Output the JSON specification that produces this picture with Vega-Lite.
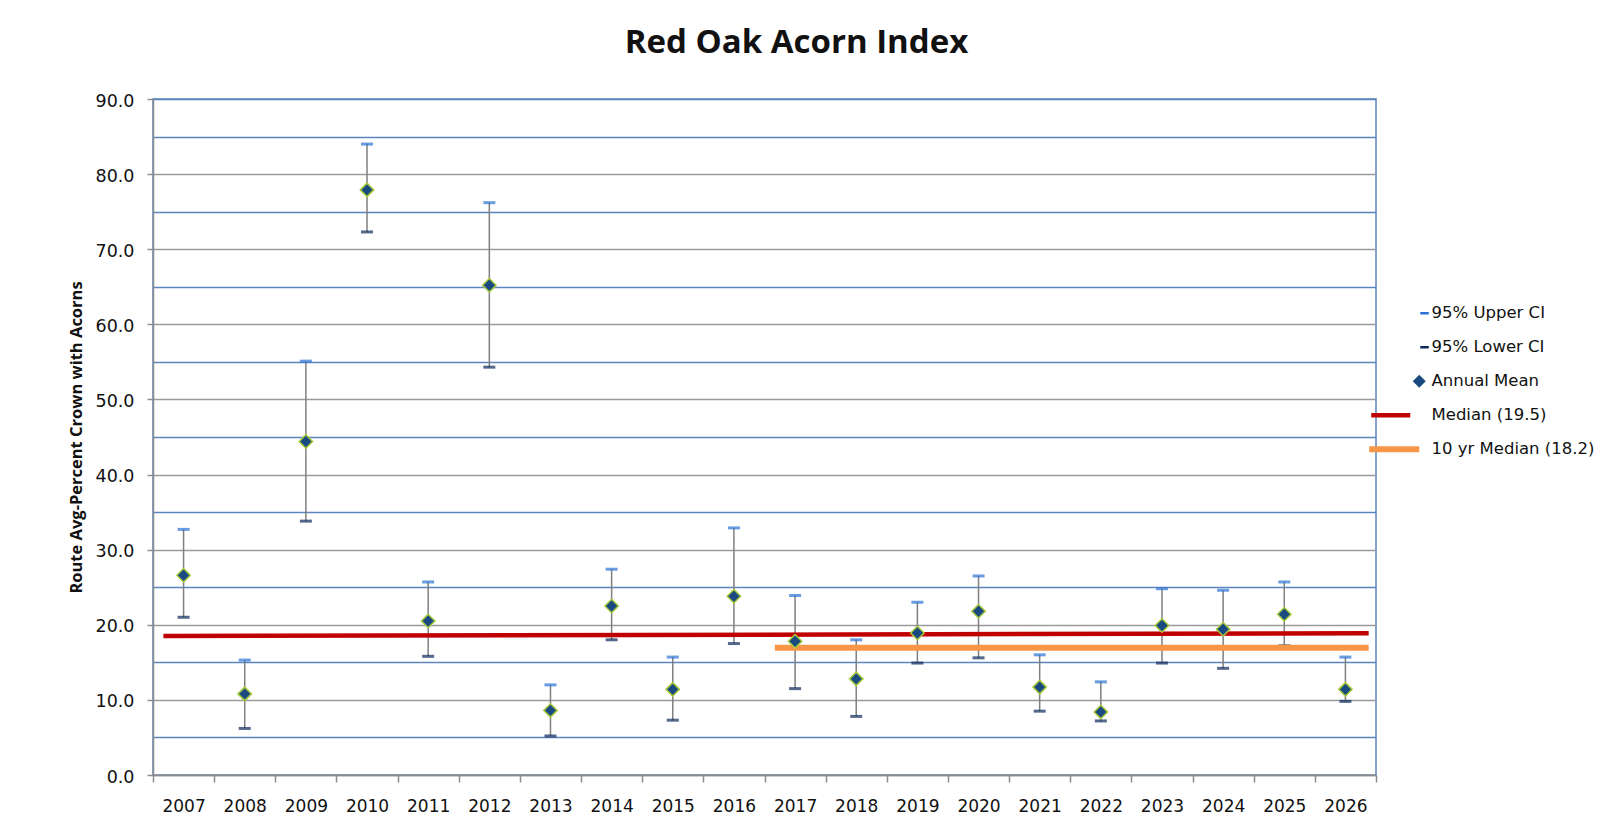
{
  "$schema": "https://vega.github.io/schema/vega-lite/v6.json",
  "autosize": "none",
  "width": 1223,
  "height": 676,
  "padding": {"left": 153, "top": 99, "right": 224, "bottom": 57},
  "background": "white",
  "title": {
    "text": "Red Oak Acorn Index",
    "font": "Open Sans",
    "fontSize": 33,
    "fontWeight": "bold",
    "color": "#111111",
    "anchor": "middle",
    "offset": 32,
    "dx": 32
  },
  "config": {
    "view": {"stroke": "#5b85bd", "strokeWidth": 1.5},
    "font": "DejaVu Sans",
    "axisY": {
      "labelFont": "DejaVu Sans",
      "labelFontSize": 17.5,
      "labelColor": "#111111",
      "labelPadding": 13,
      "labelOffset": 2,
      "tickSize": 6,
      "tickWidth": 1.5,
      "domainColor": "#8c8c8c",
      "domainWidth": 1.5,
      "grid": true,
      "gridWidth": 1.5,
      "titleFont": "Open Sans",
      "titleFontSize": 16.5,
      "titleFontWeight": "bold",
      "titleColor": "#111111",
      "titlePadding": 11
    },
    "legend": {
      "title": null,
      "orient": "none",
      "legendX": 1266,
      "legendY": 206,
      "padding": 0,
      "symbolSize": 100,
      "labelOffset": -4,
      "rowPadding": 17,
      "labelFont": "DejaVu Sans",
      "labelFontSize": 16.5,
      "labelColor": "#111111",
      "labelLimit": 300,
      "symbolOpacity": 1,
      "symbolStrokeWidth": 0
    }
  },
  "datasets": {
    "acorns": [
      {"year": "2007", "mean": 26.6, "lower": 21.0, "upper": 32.7},
      {"year": "2008", "mean": 10.8, "lower": 6.2, "upper": 15.3},
      {"year": "2009", "mean": 44.4, "lower": 33.8, "upper": 55.1},
      {"year": "2010", "mean": 77.9, "lower": 72.3, "upper": 84.0},
      {"year": "2011", "mean": 20.5, "lower": 15.8, "upper": 25.7},
      {"year": "2012", "mean": 65.2, "lower": 54.3, "upper": 76.2},
      {"year": "2013", "mean": 8.6, "lower": 5.2, "upper": 12.0},
      {"year": "2014", "mean": 22.5, "lower": 18.0, "upper": 27.4},
      {"year": "2015", "mean": 11.4, "lower": 7.3, "upper": 15.7},
      {"year": "2016", "mean": 23.8, "lower": 17.5, "upper": 32.9},
      {"year": "2017", "mean": 17.8, "lower": 11.5, "upper": 23.9},
      {"year": "2018", "mean": 12.8, "lower": 7.8, "upper": 18.0},
      {"year": "2019", "mean": 18.9, "lower": 14.9, "upper": 23.0},
      {"year": "2020", "mean": 21.8, "lower": 15.6, "upper": 26.5},
      {"year": "2021", "mean": 11.7, "lower": 8.5, "upper": 16.0},
      {"year": "2022", "mean": 8.4, "lower": 7.2, "upper": 12.4},
      {"year": "2023", "mean": 19.9, "lower": 14.9, "upper": 24.8},
      {"year": "2024", "mean": 19.4, "lower": 14.2, "upper": 24.6},
      {"year": "2025", "mean": 21.4, "lower": 17.2, "upper": 25.7},
      {"year": "2026", "mean": 11.4, "lower": 9.8, "upper": 15.7}
    ],
    "medians": [
      {"name": "Median (19.5)", "start": "2007", "end": "2026", "y0": 18.5, "y1": 18.87},
      {"name": "10 yr Median (18.2)", "start": "2017", "end": "2026", "y0": 16.95, "y1": 16.95}
    ],
    "legend": [
      {"series": "95% Upper CI"},
      {"series": "95% Lower CI"},
      {"series": "Annual Mean"},
      {"series": "Median (19.5)"},
      {"series": "10 yr Median (18.2)"}
    ]
  },
  "data": {"name": "acorns"},
  "encoding": {
    "x": {
      "field": "year",
      "type": "ordinal",
      "title": null,
      "scale": {"type": "band", "paddingInner": 0, "paddingOuter": 0},
      "axis": {
        "labelAngle": 0,
        "tickBand": "extent",
        "labelFont": "DejaVu Sans",
        "labelFontSize": 17,
        "labelColor": "#111111",
        "labelPadding": 16,
        "tickSize": 7,
        "tickColor": "#8c8c8c",
        "tickWidth": 1.5,
        "domainColor": "#8c8c8c",
        "domainWidth": 1.5,
        "grid": false
      }
    }
  },
  "layer": [
    {
      "mark": {"type": "rule", "color": "#7f7f7f", "strokeWidth": 1.5},
      "encoding": {
        "y": {
          "field": "lower",
          "type": "quantitative",
          "scale": {"domain": [0, 90], "nice": false},
          "title": "Route Avg-Percent Crown with Acorns",
          "axis": {
            "values": [0, 5, 10, 15, 20, 25, 30, 35, 40, 45, 50, 55, 60, 65, 70, 75, 80, 85, 90],
            "labelExpr": "datum.value % 10 === 0 ? format(datum.value, '.1f') : ''",
            "tickColor": {"condition": {"test": "datum.value % 10 === 0", "value": "#8c8c8c"}, "value": "transparent"},
            "gridColor": {"condition": {"test": "datum.value % 10 === 0 && datum.value < 90", "value": "#9a9a9a"}, "value": "#5b85bd"}
          }
        },
        "y2": {"field": "upper"}
      }
    },
    {
      "mark": {"type": "tick", "color": "#2a72d4", "size": 12, "thickness": 3},
      "encoding": {
        "y": {
          "field": "upper",
          "type": "quantitative",
          "title": "Route Avg-Percent Crown with Acorns",
          "axis": {
            "values": [0, 5, 10, 15, 20, 25, 30, 35, 40, 45, 50, 55, 60, 65, 70, 75, 80, 85, 90],
            "labelExpr": "datum.value % 10 === 0 ? format(datum.value, '.1f') : ''",
            "tickColor": {"condition": {"test": "datum.value % 10 === 0", "value": "#8c8c8c"}, "value": "transparent"},
            "gridColor": {"condition": {"test": "datum.value % 10 === 0 && datum.value < 90", "value": "#9a9a9a"}, "value": "#5b85bd"}
          }
        }
      }
    },
    {
      "mark": {"type": "tick", "color": "#0b2a5b", "size": 12, "thickness": 3},
      "encoding": {
        "y": {
          "field": "lower",
          "type": "quantitative",
          "title": "Route Avg-Percent Crown with Acorns",
          "axis": {
            "values": [0, 5, 10, 15, 20, 25, 30, 35, 40, 45, 50, 55, 60, 65, 70, 75, 80, 85, 90],
            "labelExpr": "datum.value % 10 === 0 ? format(datum.value, '.1f') : ''",
            "tickColor": {"condition": {"test": "datum.value % 10 === 0", "value": "#8c8c8c"}, "value": "transparent"},
            "gridColor": {"condition": {"test": "datum.value % 10 === 0 && datum.value < 90", "value": "#9a9a9a"}, "value": "#5b85bd"}
          }
        }
      }
    },
    {
      "data": {"name": "medians"},
      "mark": {"type": "rule", "strokeCap": "butt"},
      "encoding": {
        "x": {"field": "start", "type": "ordinal", "bandPosition": 0.17},
        "x2": {"field": "end", "bandPosition": 0.88},
        "y": {
          "field": "y0",
          "type": "quantitative",
          "title": "Route Avg-Percent Crown with Acorns",
          "axis": {
            "values": [0, 5, 10, 15, 20, 25, 30, 35, 40, 45, 50, 55, 60, 65, 70, 75, 80, 85, 90],
            "labelExpr": "datum.value % 10 === 0 ? format(datum.value, '.1f') : ''",
            "tickColor": {"condition": {"test": "datum.value % 10 === 0", "value": "#8c8c8c"}, "value": "transparent"},
            "gridColor": {"condition": {"test": "datum.value % 10 === 0 && datum.value < 90", "value": "#9a9a9a"}, "value": "#5b85bd"}
          }
        },
        "y2": {"field": "y1"},
        "stroke": {"field": "name", "type": "nominal", "scale": {"domain": ["Median (19.5)", "10 yr Median (18.2)"], "range": ["#c00000", "#f79646"]}, "legend": null},
        "strokeWidth": {"field": "name", "type": "nominal", "scale": {"domain": ["Median (19.5)", "10 yr Median (18.2)"], "range": [4.5, 6]}, "legend": null}
      }
    },
    {
      "mark": {"type": "point", "shape": "diamond", "filled": true, "size": 180, "fill": "#1b4a80", "stroke": "#a5c93a", "strokeWidth": 1.5, "opacity": 1},
      "encoding": {
        "y": {
          "field": "mean",
          "type": "quantitative",
          "title": "Route Avg-Percent Crown with Acorns",
          "axis": {
            "values": [0, 5, 10, 15, 20, 25, 30, 35, 40, 45, 50, 55, 60, 65, 70, 75, 80, 85, 90],
            "labelExpr": "datum.value % 10 === 0 ? format(datum.value, '.1f') : ''",
            "tickColor": {"condition": {"test": "datum.value % 10 === 0", "value": "#8c8c8c"}, "value": "transparent"},
            "gridColor": {"condition": {"test": "datum.value % 10 === 0 && datum.value < 90", "value": "#9a9a9a"}, "value": "#5b85bd"}
          }
        }
      }
    },
    {
      "data": {"name": "legend"},
      "mark": {"type": "point", "filled": true, "opacity": 0},
      "encoding": {
        "x": {"value": 0},
        "y": {"value": 0},
        "color": {
          "field": "series",
          "type": "nominal",
          "scale": {
            "domain": ["95% Upper CI", "95% Lower CI", "Annual Mean", "Median (19.5)", "10 yr Median (18.2)"],
            "range": ["#2a72d4", "#0b2a5b", "#1b4a80", "#c00000", "#f79646"]
          }
        },
        "shape": {
          "field": "series",
          "type": "nominal",
          "scale": {
            "domain": ["95% Upper CI", "95% Lower CI", "Annual Mean", "Median (19.5)", "10 yr Median (18.2)"],
            "range": [
              "M-1.4,-0.25H0.3V0.25H-1.4Z",
              "M-1.4,-0.25H0.3V0.25H-1.4Z",
              "M-1.6,-1.3L-0.3,0L-1.6,1.3L-2.9,0Z",
              "M-11.2,-0.45H-3.4V0.45H-11.2Z",
              "M-11.6,-0.6H-1.6V0.6H-11.6Z"
            ]
          }
        }
      }
    }
  ]
}
